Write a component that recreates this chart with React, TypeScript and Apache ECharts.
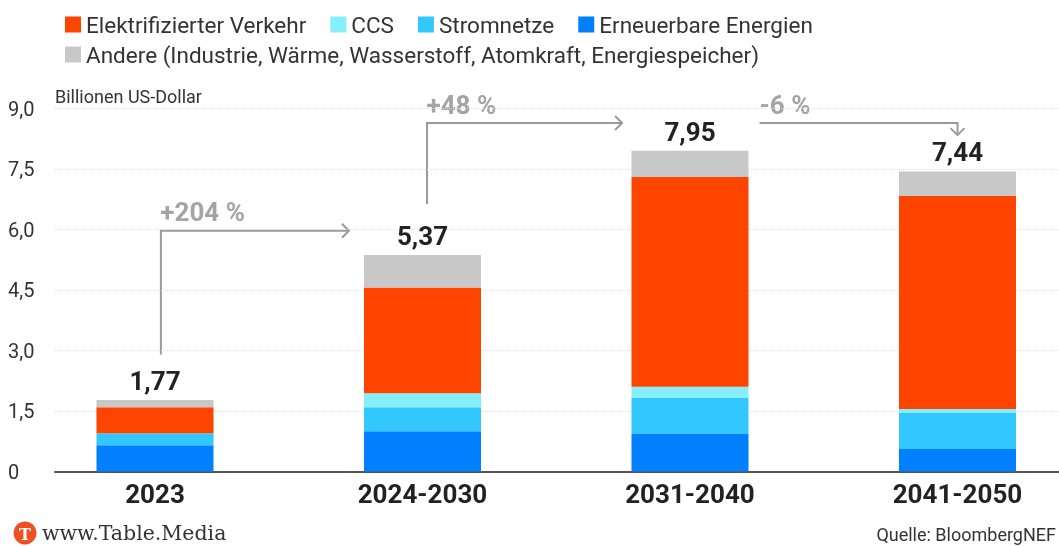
import React, { useEffect, useRef } from "react";
import * as echarts from "echarts";

const categories = ["2023", "2024-2030", "2031-2040", "2041-2050"];
const erneuerbare = [0.65, 1.0, 0.93, 0.56];
const stromnetze = [0.3, 0.59, 0.9, 0.89];
const ccs = [0.0, 0.35, 0.27, 0.1];
const verkehr = [0.64, 2.62, 5.2, 5.28];
const andere = [0.18, 0.81, 0.65, 0.61];
const totals = [1.77, 5.37, 7.95, 7.44];
const yMax = 9;
const yStep = 1.5;

const NAME_V = "Elektrifizierter Verkehr";
const NAME_C = "CCS";
const NAME_S = "Stromnetze";
const NAME_E = "Erneuerbare Energien";
const NAME_A = "Andere (Industrie, Wärme, Wasserstoff, Atomkraft, Energiespeicher)";

// change annotations in data coordinates (x = category index, y = value)
const changeLabels = ["+204 %", "+48 %", "-6 %"];
const changePaths: number[][][] = [
  [[0.022, 2.9], [0.022, 5.97], [0.725, 5.97]],
  [[1.017, 6.63], [1.017, 8.64], [1.746, 8.64]],
  [[2.26, 8.64], [3.0, 8.64], [3.0, 8.34]],
];
const changeLabelAt: number[][] = [
  [0.02, 6.43],
  [1.015, 9.09],
  [2.26, 9.09],
];

const FONT = "Roboto";

export default function App() {
  const ref = useRef<HTMLDivElement>(null);
  useEffect(() => {
    if (!ref.current) return;
    const chart = echarts.init(ref.current, undefined, { renderer: "svg" });
    const baseSeries = (name: string, data: number[], color: string) => ({
      name,
      type: "bar",
      stack: "total",
      xAxisIndex: 0,
      yAxisIndex: 0,
      barWidth: 117,
      data,
      itemStyle: { color },
      emphasis: { disabled: true },
    });
    const legendText = { fontFamily: FONT, fontSize: 22.5, color: "#333" };
    const option: any = {
      animation: false,
      textStyle: { fontFamily: FONT },
      grid: [
        { left: 21.25, top: 108.5, width: 1070, height: 363, outerBoundsMode: "none", containLabel: false },
        { left: 55, right: 0, top: 108.5, height: 363, outerBoundsMode: "none", containLabel: false },
      ],
      legend: [
        {
          data: [NAME_V, NAME_C, NAME_S, NAME_E],
          left: 60,
          top: 8,
          icon: "rect",
          itemWidth: 16,
          itemHeight: 16,
          itemGap: 24,
          textStyle: legendText,
          selectedMode: false,
        },
        {
          data: [NAME_A],
          left: 60,
          top: 38,
          icon: "rect",
          itemWidth: 16,
          itemHeight: 16,
          textStyle: legendText,
          selectedMode: false,
        },
      ],
      xAxis: [
        {
          type: "category",
          gridIndex: 0,
          data: categories,
          axisLine: { show: false },
          axisTick: { show: false },
          splitLine: { show: false },
          axisLabel: {
            fontFamily: FONT,
            fontWeight: "bold",
            fontSize: 26,
            color: "#222",
            margin: 9,
          },
        },
        {
          type: "value",
          gridIndex: 1,
          min: 0,
          max: 1,
          axisLine: { show: true, onZero: false, lineStyle: { color: "#555", width: 2 } },
          axisTick: { show: false },
          axisLabel: { show: false },
          splitLine: { show: false },
        },
      ],
      yAxis: [
        {
          type: "value",
          gridIndex: 0,
          min: 0,
          max: yMax,
          interval: yStep,
          show: false,
          splitLine: { show: false },
        },
        {
          type: "value",
          gridIndex: 1,
          min: 0,
          max: yMax,
          interval: yStep,
          axisLine: { show: false },
          axisTick: { show: false },
          splitLine: { lineStyle: { color: "#e2e2e2", type: "dotted", width: 1 } },
          axisLabel: {
            align: "left",
            margin: 47,
            fontFamily: FONT,
            fontSize: 20,
            color: "#333",
            formatter: (v: number) => (v === 0 ? "0" : v.toFixed(1).replace(".", ",")),
          },
        },
      ],
      series: [
        baseSeries(NAME_E, erneuerbare, "#0080ff"),
        baseSeries(NAME_S, stromnetze, "#33c8fd"),
        baseSeries(NAME_C, ccs, "#85f0fb"),
        baseSeries(NAME_V, verkehr, "#ff4400"),
        {
          ...baseSeries(NAME_A, andere, "#c8c8c8"),
          label: {
            show: true,
            position: "top",
            distance: 6,
            fontFamily: FONT,
            fontWeight: "bold",
            fontSize: 26,
            color: "#222",
            formatter: (p: any) => totals[p.dataIndex].toFixed(2).replace(".", ","),
          },
        },
      ],
      graphic: [],
    };
    chart.setOption(option);

    const finder = { xAxisIndex: 0, yAxisIndex: 0 };
    const x0 = (chart.convertToPixel(finder, [0, 0]) as number[])[0];
    const x1 = (chart.convertToPixel(finder, [1, 0]) as number[])[0];
    const band = x1 - x0;
    const px = (p: number[]) => {
      const i = Math.floor(p[0]);
      const base = chart.convertToPixel(finder, [i, p[1]]) as number[];
      return [base[0] + (p[0] - i) * band, base[1]];
    };
    const gray = "#9a9a9a";
    const g: any[] = [];
    changePaths.forEach((path, k) => {
      const pts = path.map(px);
      g.push({
        type: "polyline",
        shape: { points: pts },
        style: { stroke: gray, lineWidth: 2, fill: null },
        silent: true,
      });
      const end = pts[pts.length - 1];
      const prev = pts[pts.length - 2];
      const s = 7;
      let head: number[][];
      if (Math.abs(end[0] - prev[0]) > Math.abs(end[1] - prev[1])) {
        head = [[end[0] - s, end[1] - s], end, [end[0] - s, end[1] + s]];
      } else {
        head = [[end[0] - s, end[1] - s], end, [end[0] + s, end[1] - s]];
      }
      g.push({
        type: "polyline",
        shape: { points: head },
        style: { stroke: gray, lineWidth: 2, fill: null },
        silent: true,
      });
      const lp = px(changeLabelAt[k]);
      g.push({
        type: "text",
        x: lp[0],
        y: lp[1],
        style: {
          text: changeLabels[k],
          fontFamily: FONT,
          fontWeight: "bold",
          fontSize: 26,
          fill: "#a4a4a4",
          verticalAlign: "middle",
          align: "left",
        },
        silent: true,
      });
    });
    g.push({
      type: "text",
      x: 55,
      y: 96,
      style: { text: "Billionen US-Dollar", fontFamily: FONT, fontSize: 18, fill: "#333", verticalAlign: "middle" },
    });
    g.push({ type: "circle", shape: { cx: 25, cy: 533, r: 11.5 }, style: { fill: "#f04e23" } });
    g.push({
      type: "text",
      x: 25,
      y: 534,
      style: {
        text: "T",
        fontFamily: "DejaVu Serif",
        fontWeight: "bold",
        fontSize: 16,
        fill: "#fff",
        align: "center",
        verticalAlign: "middle",
      },
    });
    g.push({
      type: "text",
      x: 42,
      y: 533,
      style: { text: "www.Table.Media", fontFamily: "DejaVu Serif", fontSize: 20.5, fill: "#333", verticalAlign: "middle" },
    });
    g.push({
      type: "text",
      x: 1056,
      y: 534,
      style: {
        text: "Quelle: BloombergNEF",
        fontFamily: FONT,
        fontSize: 18,
        fill: "#333",
        align: "right",
        verticalAlign: "middle",
      },
    });
    chart.setOption({ graphic: g });

    return () => chart.dispose();
  }, []);
  return <div ref={ref} style={{ position: "fixed", left: 0, top: 0, width: 1059, height: 546 }} />;
}
